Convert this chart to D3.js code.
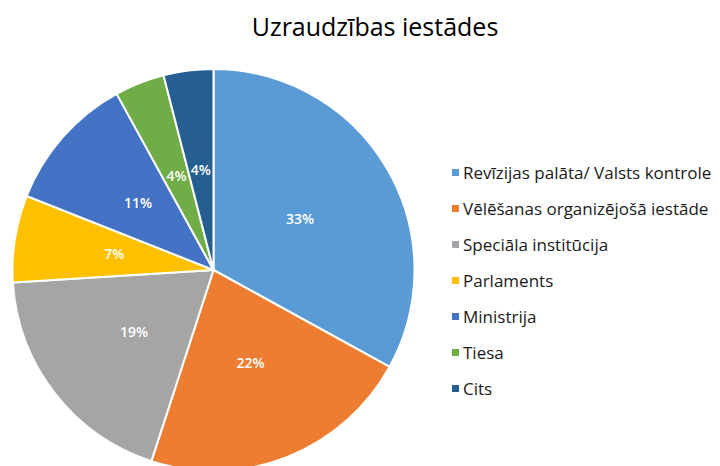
<!DOCTYPE html>
<html>
<head>
<meta charset="utf-8">
<style>
  body { margin: 0; background: #fff; }
  svg { display: block; }
</style>
</head>
<body>
<svg width="720" height="466" font-family="'Open Sans', sans-serif"></svg>
<script src="https://cdn.jsdelivr.net/npm/d3@7"></script>
<script>

var categories = ["Revīzijas palāta/ Valsts kontrole", "Vēlēšanas organizējošā iestāde",
    "Speciāla institūcija", "Parlaments", "Ministrija", "Tiesa", "Cits"];
var values = [33, 22, 19, 7, 11, 4, 4];
var colors = ["#5B9BD5", "#ED7D31", "#A5A5A5", "#FFC000", "#4472C4", "#70AD47", "#255E91"];
var title = "Uzraudzības iestādes";

var svg = d3.select("svg"),
    width = +svg.attr("width"),
    height = +svg.attr("height");

var radius = 201,
    cx = 213.5,
    cy = 270;

var color = d3.scaleOrdinal().domain(categories).range(colors);

var pie = d3.pie()
    .sort(null)
    .value(function(d) { return d.value; });

var arc = d3.arc().innerRadius(0).outerRadius(radius);

var data = categories.map(function(c, i) { return {name: c, value: values[i]}; });

svg.append("text")
    .attr("x", 375)
    .attr("y", 36)
    .attr("text-anchor", "middle")
    .attr("font-size", 25)
    .attr("fill", "#000")
    .text(title);

var g = svg.append("g").attr("transform", "translate(" + cx + "," + cy + ")");

var slice = g.selectAll(".slice")
  .data(pie(data))
  .enter().append("g")
    .attr("class", "slice");

slice.append("path")
    .attr("d", arc)
    .attr("fill", function(d) { return color(d.data.name); })
    .attr("stroke", "#fff")
    .attr("stroke-width", 2)
    .attr("stroke-linejoin", "round");

slice.append("text")
    .attr("transform", function(d) { return "translate(" + arc.centroid(d) + ")"; })
    .attr("dy", "0.35em")
    .attr("text-anchor", "middle")
    .attr("font-size", 14)
    .attr("font-weight", 600)
    .attr("fill", "#fff")
    .text(function(d) { return d.data.value + "%"; });

var legend = svg.append("g").attr("transform", "translate(452,173)");

var item = legend.selectAll(".item")
  .data(categories)
  .enter().append("g")
    .attr("class", "item")
    .attr("transform", function(d, i) { return "translate(0," + i * 36 + ")"; });

item.append("rect")
    .attr("x", 0)
    .attr("y", -4)
    .attr("width", 7)
    .attr("height", 7)
    .attr("fill", function(d) { return color(d); });

item.append("text")
    .attr("x", 11)
    .attr("dy", "0.35em")
    .attr("font-size", 17)
    .attr("fill", "#1a1a1a")
    .text(function(d) { return d; });

</script>
</body>
</html>
